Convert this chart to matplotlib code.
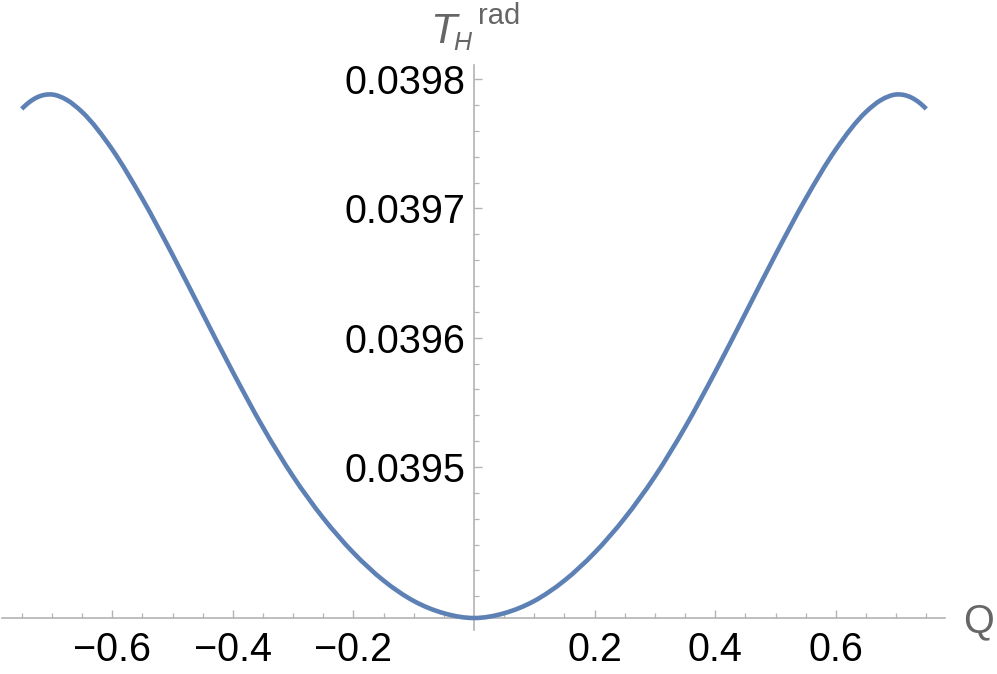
import numpy as np
import matplotlib
matplotlib.use("Agg")
import matplotlib.pyplot as plt
from matplotlib.ticker import FixedLocator, FuncFormatter
from matplotlib.path import Path
from matplotlib.patches import PathPatch

# ---- data ----
Q = [-0.75, -0.725, -0.70, -0.675, -0.65, -0.60, -0.55, -0.50, -0.45, -0.40,
     -0.35, -0.30, -0.25, -0.20, -0.15, -0.10, -0.05, 0.0,
     0.05, 0.10, 0.15, 0.20, 0.25, 0.30, 0.35, 0.40, 0.45, 0.50,
     0.55, 0.60, 0.65, 0.675, 0.70, 0.725, 0.75]
T_rad = [0.0397769, 0.0397858, 0.0397881, 0.0397838, 0.0397746, 0.0397456,
         0.0397074, 0.0396642, 0.0396187, 0.0395735, 0.0395307, 0.0394927,
         0.0394605, 0.0394337, 0.0394122, 0.0393964, 0.0393869, 0.0393832,
         0.0393869, 0.0393964, 0.0394122, 0.0394337, 0.0394605, 0.0394927,
         0.0395307, 0.0395735, 0.0396187, 0.0396642, 0.0397074, 0.0397456,
         0.0397746, 0.0397838, 0.0397881, 0.0397858, 0.0397769]

x_major = [-0.6, -0.4, -0.2, 0.2, 0.4, 0.6]
x_minor = [-0.75, -0.7, -0.65, -0.55, -0.5, -0.45, -0.35, -0.3, -0.25,
           -0.15, -0.1, -0.05, 0.05, 0.1, 0.15, 0.25, 0.3, 0.35,
           0.45, 0.5, 0.55, 0.65, 0.7, 0.75]
y_major = [0.0395, 0.0396, 0.0397, 0.0398]
y_minor = [0.03940, 0.03942, 0.03944, 0.03946, 0.03948,
           0.03952, 0.03954, 0.03956, 0.03958,
           0.03962, 0.03964, 0.03966, 0.03968,
           0.03972, 0.03974, 0.03976, 0.03978]

plt.rcParams['font.family'] = ['Liberation Sans', 'DejaVu Sans']

W, H = 997, 674
fig = plt.figure(figsize=(W / 100, H / 100), dpi=100)

# axes occupy pixel box x:2..945, y:65..630
ax = fig.add_axes([2 / W, 1 - 630 / H, 943 / W, 565 / H])
ax.set_xlim(-472 / 603, 471 / 603)
ax.set_ylim(0.0395 - 163 / 129.3 * 1e-4, 0.0395 + 402 / 129.3 * 1e-4)

line_col = '#5E81B5'
axis_col = '#b3b3b3'
lab_col = '#666666'


def smooth_path(xs, ys):
    """Cubic Hermite curve through the data points (Bezier segments)."""
    x = np.asarray(xs, float)
    y = np.asarray(ys, float)
    n = len(x)
    h = np.diff(x)
    d = np.diff(y) / h
    m = np.empty(n)
    for i in range(1, n - 1):
        m[i] = (h[i - 1] * d[i] + h[i] * d[i - 1]) / (h[i - 1] + h[i])
    m[0] = 2 * d[0] - m[1]
    m[-1] = 2 * d[-1] - m[-2]
    verts = [(x[0], y[0])]
    codes = [Path.MOVETO]
    for i in range(n - 1):
        dx = h[i] / 3.0
        verts += [(x[i] + dx, y[i] + m[i] * dx),
                  (x[i + 1] - dx, y[i + 1] - m[i + 1] * dx),
                  (x[i + 1], y[i + 1])]
        codes += [Path.CURVE4] * 3
    return Path(verts, codes)


ax.add_patch(PathPatch(smooth_path(Q, T_rad), facecolor='none',
                       edgecolor=line_col, lw=3.3, capstyle='butt',
                       clip_on=False, zorder=3))

for s in ['top', 'right']:
    ax.spines[s].set_visible(False)
ax.spines['left'].set_position(('data', 0))
ax.spines['bottom'].set_position(('data', min(T_rad)))
for s in ['left', 'bottom']:
    ax.spines[s].set_color(axis_col)
    ax.spines[s].set_linewidth(1.2)

ax.xaxis.set_major_locator(FixedLocator(x_major))
ax.xaxis.set_minor_locator(FixedLocator(x_minor))
ax.yaxis.set_major_locator(FixedLocator(y_major))
ax.yaxis.set_minor_locator(FixedLocator(y_minor))
ax.yaxis.set_major_formatter(FuncFormatter(lambda v, p: f'{v:.4f}'))
ax.xaxis.set_major_formatter(
    FuncFormatter(lambda v, p: f'{v:.1f}'.replace('-', '\u2212')))

ax.tick_params(which='major', direction='in', length=6, width=1.0,
               color=axis_col, labelsize=28.5, labelcolor='black')
ax.tick_params(which='minor', direction='in', length=3.5, width=0.9,
               color=axis_col)
ax.tick_params(axis='x', which='major', pad=9.5)
ax.tick_params(axis='y', which='major', pad=6)

# axis labels
fig.text(963 / W, 1 - 632 / H, 'Q', fontsize=28.5, color=lab_col,
         ha='left', va='baseline')
fig.text(430 / W, 1 - 43 / H, 'T', fontsize=31, color=lab_col,
         style='italic', ha='left', va='baseline')
fig.text(453 / W, 1 - 50 / H, 'H', fontsize=18, color=lab_col,
         style='italic', ha='left', va='baseline')
fig.text(478 / W, 1 - 24 / H, 'rad', fontsize=21, color=lab_col,
         ha='left', va='baseline')

fig.savefig('out.png', dpi=100)
